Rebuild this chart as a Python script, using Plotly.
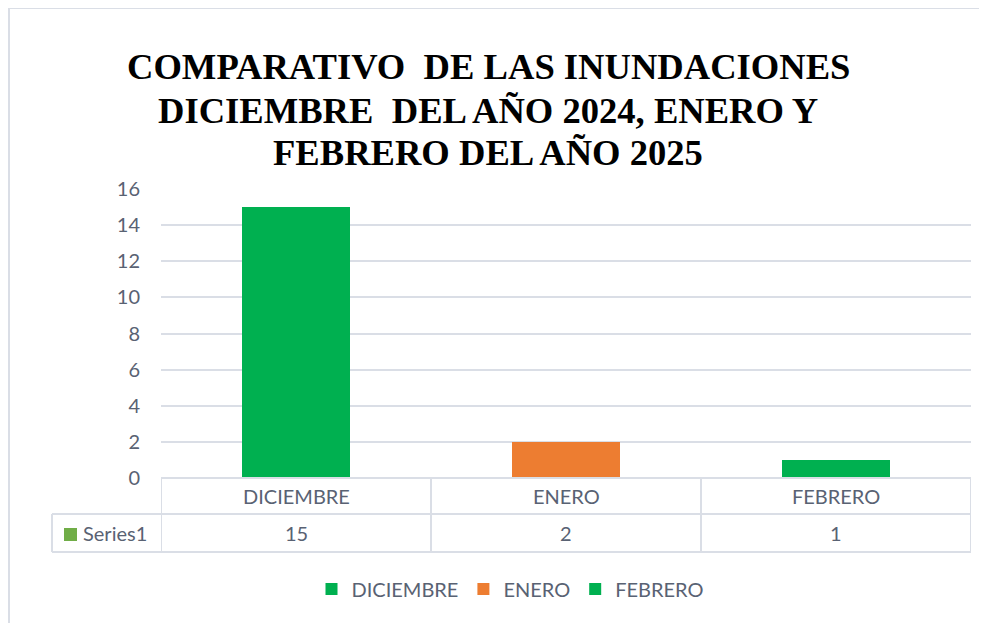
import plotly.graph_objects as go

# data
categories = ["DICIEMBRE", "ENERO", "FEBRERO"]
values = [15, 2, 1]
bar_colors = ["#00B050", "#ED7D31", "#00B050"]
series_name = "Series1"
title_lines = ["COMPARATIVO\u00a0 DE LAS INUNDACIONES",
               "DICIEMBRE\u00a0 DEL AÑO 2024, ENERO Y",
               "FEBRERO DEL AÑO 2025"]
y_ticks = [0, 2, 4, 6, 8, 10, 12, 14, 16]

# page has an 8px body margin, so the figure is a bit smaller than the window
OFF = 8
W, H = 979, 615
L, R, T, B = 153, 16, 181, 145
PW, PH = W - L - R, H - T - B
GRID = "#dadee6"
TXT = "#596273"
FONT = "Lato"
FS = 20


def px(x):
    # page pixel -> paper x
    return (x - OFF - L) / PW


def py(y):
    # page pixel -> paper y
    return (H - B - (y - OFF)) / PH


fig = go.Figure()
for cat, val, col in zip(categories, values, bar_colors):
    fig.add_trace(go.Bar(x=[cat], y=[val], name=cat, marker_color=col,
                         marker_line_width=0, width=0.4))

fig.update_layout(
    width=W, height=H,
    margin=dict(l=L, r=R, t=T, b=B),
    plot_bgcolor="white", paper_bgcolor="white",
    barmode="overlay",
    showlegend=True,
    legend=dict(orientation="h", x=px(510), xanchor="center", y=py(589), yanchor="middle",
                font=dict(family=FONT, size=FS, color=TXT), itemwidth=30,
                traceorder="normal"),
    xaxis=dict(type="category", categoryorder="array", categoryarray=categories,
               range=[-0.5, 2.5], showticklabels=False, showgrid=False, zeroline=False),
    yaxis=dict(range=[0, 16], tickvals=y_ticks, showgrid=True, gridcolor=GRID, gridwidth=2,
               zeroline=False, ticks="", ticklabelstandoff=20,
               tickfont=dict(family=FONT, size=FS, color=TXT)),
)

# title, three centred lines
for line, yc in zip(title_lines, [67, 110, 152]):
    fig.add_annotation(text=f"<b>{line}</b>", xref="paper", yref="paper", x=px(488), y=py(yc),
                       xanchor="center", yanchor="middle", showarrow=False,
                       font=dict(family="Liberation Serif", size=36.6, color="black"))

# outer chart frame
fig.add_shape(type="rect", xref="paper", yref="paper", x0=px(9), x1=px(1010), y0=py(660), y1=py(8),
              line=dict(color=GRID, width=2), layer="below")

# data table below the axis
tbl = dict(color=GRID, width=2)
fig.add_shape(type="line", xref="paper", yref="paper", x0=0, x1=1, y0=py(478), y1=py(478), line=tbl)
for yy in [514, 552]:
    fig.add_shape(type="line", xref="paper", yref="paper", x0=px(52), x1=1, y0=py(yy), y1=py(yy), line=tbl)
fig.add_shape(type="line", xref="paper", yref="paper", x0=px(52), x1=px(52), y0=py(514), y1=py(552), line=tbl)
for xb in [-0.5, 0.5, 1.5, 2.5]:
    fig.add_shape(type="line", xref="x", yref="paper", x0=xb, x1=xb, y0=py(478), y1=py(552), line=tbl)

for cat, val in zip(categories, values):
    fig.add_annotation(text=cat, xref="x", yref="paper", x=cat, y=py(496), showarrow=False,
                       yanchor="middle", font=dict(family=FONT, size=FS, color=TXT))
    fig.add_annotation(text=str(val), xref="x", yref="paper", x=cat, y=py(533), showarrow=False,
                       yanchor="middle", font=dict(family=FONT, size=FS, color=TXT))

# series key in the table
fig.add_shape(type="rect", xref="paper", yref="paper", x0=px(64), x1=px(77), y0=py(541), y1=py(528),
              fillcolor="#70AD47", line=dict(width=0))
fig.add_annotation(text=series_name, xref="paper", yref="paper", x=px(81), y=py(533), xanchor="left",
                   yanchor="middle", showarrow=False, font=dict(family=FONT, size=FS, color=TXT))

fig.write_html("out.html")
